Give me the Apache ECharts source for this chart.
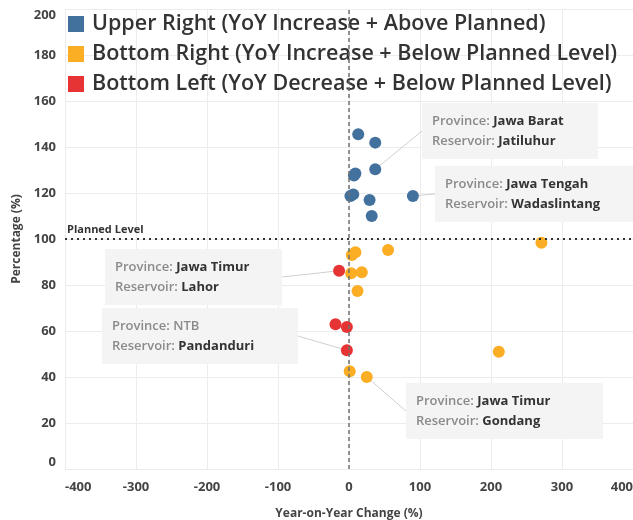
<!DOCTYPE html>
<html>
<head>
<meta charset="utf-8">
<script src="https://cdn.jsdelivr.net/npm/echarts@6/dist/echarts.min.js"></script>
<style>
  html, body { margin: 0; padding: 0; background: #fff; }
  #chart { width: 633px; height: 520px; }
</style>
</head>
<body>
<div id="chart"></div>
<script>
//*************************************************************************************************data
// [yoy change %, percentage %]
var upper_right = [[13, 145.5], [37, 141.9], [37, 130.3], [9, 128.5], [7, 127.6],
                   [2, 118.7], [6, 119.4], [29, 117], [32, 110], [90, 118.7]];
var bottom_right = [[271, 98.4], [55, 95.2], [9, 94.2], [4, 93], [3, 85.1],
                    [18, 85.5], [12, 77.4], [211, 51], [1, 42.5], [25, 40]];
var bottom_left = [[-14, 86.2], [-19, 62.9], [-3, 61.7], [-3, 51.6]];

var group_names = ['Upper Right (YoY Increase + Above Planned)',
                   'Bottom Right (YoY Increase + Below Planned Level)',
                   'Bottom Left (YoY Decrease + Below Planned Level)'];

// annotated points: series index, point index, province, reservoir
var note_series = [0, 0, 2, 2, 1];
var note_point = [2, 9, 0, 3, 9];
var note_province = ['Jawa Barat', 'Jawa Tengah', 'Jawa Timur', 'NTB', 'Jawa Timur'];
var note_reservoir = ['Jatiluhur', 'Wadaslintang', 'Lahor', 'Pandanduri', 'Gondang'];

var planned_level = 100;

//*************************************************************************************************style
var colors = ['#41719c', '#fbad23', '#e63434'];
// label box top-left and width (pixels)
var note_box = {
    'Jatiluhur': [422, 103, 166],
    'Wadaslintang': [435, 166, 190],
    'Lahor': [105, 249, 167],
    'Pandanduri': [102, 308, 186],
    'Gondang': [406, 383, 187],
};
var font = '"Open Sans", "Noto Sans", sans-serif';

//*************************************************************************************************build
function build_data(series_index, points) {
    return points.map(function (p, i) {
        for (let k = 0; k < note_series.length; k++) {
            if (note_series[k] == series_index && note_point[k] == i) {
                // NTB is shown all in grey in the original
                let val_style = note_province[k] == 'NTB' ? 'k' : 'v';
                return {
                    value: p,
                    name: note_reservoir[k],
                    label: {
                        show: true,
                        width: note_box[note_reservoir[k]][2],
                        formatter: '{k|Province: }{' + val_style + '|' + note_province[k] + '}\n{k|Reservoir: }{v|' + note_reservoir[k] + '}',
                    },
                    labelLine: { show: true },
                };
            }
        }
        return { value: p };
    });
}

function note_layout(params) {
    let seriesIndex = params.seriesIndex;
    for (let k = 0; k < note_series.length; k++) {
        if (note_series[k] == seriesIndex && note_point[k] == params.dataIndex) {
            let box = note_box[note_reservoir[k]];
            return { x: box[0], y: box[1], align: 'left', verticalAlign: 'top' };
        }
    }
    return {};
}

var label_base = {
    show: false,
    backgroundColor: '#f4f4f4',
    padding: [8, 0, 8, 10],
    lineHeight: 20,
    fontFamily: font,
    rich: {
        k: { color: '#8a8a8a', fontWeight: 600, fontSize: 13, fontFamily: font, lineHeight: 20 },
        v: { color: '#333', fontWeight: 'bold', fontSize: 13, fontFamily: font, lineHeight: 20 },
    },
};

var series = [upper_right, bottom_right, bottom_left].map(function (pts, s) {
    return {
        name: group_names[s],
        type: 'scatter',
        symbolSize: 12,
        itemStyle: { color: colors[s], opacity: 1 },
        data: build_data(s, pts),
        label: label_base,
        labelLine: { show: false, lineStyle: { color: '#cfcfcf', width: 1 } },
        labelLayout: note_layout,
        z: 3,
    };
});

// reference lines
series.push({
    type: 'scatter',
    data: [],
    silent: true,
    markLine: {
        silent: true,
        symbol: 'none',
        animation: false,
        data: [
            {
                xAxis: 0,
                lineStyle: { color: '#707070', type: [4, 3], width: 1.5 },
                label: { show: false },
            },
            {
                yAxis: planned_level,
                lineStyle: { color: '#333', type: [2, 4], width: 2 },
                label: {
                    show: true,
                    formatter: 'Planned Level',
                    position: 'insideStartTop',
                    distance: [2, 4],
                    color: '#333',
                    fontWeight: 'bold',
                    fontSize: 11,
                    fontFamily: font,
                },
            },
        ],
    },
});

var chart = echarts.init(document.getElementById('chart'));
var option = {
    animation: false,
    textStyle: { fontFamily: font },
    grid: { left: 65, right: 0, top: 9, bottom: 51, outerBoundsMode: 'none', containLabel: false },
    legend: {
        orient: 'vertical',
        left: 68,
        top: 13,
        padding: 0,
        icon: 'rect',
        itemWidth: 16,
        itemHeight: 16,
        itemGap: 8,
        data: group_names,
        textStyle: { color: '#333', fontSize: 21.5, fontWeight: 600, fontFamily: font, padding: [0, 0, 0, 3] },
        selectedMode: false,
    },
    xAxis: {
        type: 'value',
        min: -400,
        max: 400,
        interval: 100,
        name: 'Year-on-Year Change (%)',
        nameLocation: 'middle',
        nameGap: 39,
        nameTextStyle: { color: '#444', fontSize: 12, fontWeight: 'bold', fontFamily: font },
        axisLine: { show: false },
        axisTick: { show: false },
        axisLabel: {
            color: '#444', fontSize: 13, fontWeight: 'bold', margin: 12, fontFamily: font,
            alignMinLabel: 'left', alignMaxLabel: 'right',
        },
        splitLine: { show: true, lineStyle: { color: '#ececec', width: 1 } },
    },
    yAxis: {
        type: 'value',
        min: 0,
        max: 200,
        interval: 20,
        name: 'Percentage (%)',
        nameLocation: 'middle',
        nameGap: 41,
        nameTextStyle: { color: '#444', fontSize: 12, fontWeight: 'bold', fontFamily: font },
        axisLine: { show: false },
        axisTick: { show: false },
        axisLabel: {
            color: '#444', fontSize: 13, fontWeight: 'bold', margin: 9, fontFamily: font,
            verticalAlignMinLabel: 'bottom', verticalAlignMaxLabel: 'top',
        },
        splitLine: { show: true, lineStyle: { color: '#ececec', width: 1 } },
    },
    series: series,
};
chart.setOption(option);
</script>
</body>
</html>
